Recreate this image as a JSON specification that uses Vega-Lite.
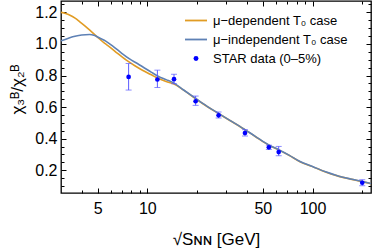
{
 "$schema": "https://vega.github.io/schema/vega-lite/v6.json",
 "width": 310, "height": 192,
 "autosize": {"type": "none"},
 "padding": {"left": 61, "top": 1, "right": 3, "bottom": 59},
 "background": "white",
 "config": {
   "view": {"stroke": "#000", "strokeWidth": 1.3},
   "axis": {"grid": false, "domain": false, "tickColor": "#000", "tickWidth": 1, "labelFont": "Liberation Sans", "labelFontSize": 16, "labelColor": "#000", "titleFont": "Liberation Sans", "titleFontSize": 17, "titleFontWeight": "normal", "titleColor": "#000"},
   "legend": {"labelFont": "Liberation Sans", "labelFontSize": 13, "labelColor": "#000", "symbolSize": 100, "rowPadding": 5, "labelOffset": 15}
 },
 "datasets": {
   "curves": [
     {"E": 3.0, "v": 1.200, "series": "μ−dependent T₀ case"},
     {"E": 3.2, "v": 1.193, "series": "μ−dependent T₀ case"},
     {"E": 3.4, "v": 1.182, "series": "μ−dependent T₀ case"},
     {"E": 3.65, "v": 1.163, "series": "μ−dependent T₀ case"},
     {"E": 3.9, "v": 1.140, "series": "μ−dependent T₀ case"},
     {"E": 4.2, "v": 1.113, "series": "μ−dependent T₀ case"},
     {"E": 4.5, "v": 1.086, "series": "μ−dependent T₀ case"},
     {"E": 5.0, "v": 1.042, "series": "μ−dependent T₀ case"},
     {"E": 5.5, "v": 1.005, "series": "μ−dependent T₀ case"},
     {"E": 5.9, "v": 0.982, "series": "μ−dependent T₀ case"},
     {"E": 6.6, "v": 0.940, "series": "μ−dependent T₀ case"},
     {"E": 7.46, "v": 0.897, "series": "μ−dependent T₀ case"},
     {"E": 8.4, "v": 0.862, "series": "μ−dependent T₀ case"},
     {"E": 9.4, "v": 0.832, "series": "μ−dependent T₀ case"},
     {"E": 10.5, "v": 0.806, "series": "μ−dependent T₀ case"},
     {"E": 11.5, "v": 0.784, "series": "μ−dependent T₀ case"},
     {"E": 13, "v": 0.762, "series": "μ−dependent T₀ case"},
     {"E": 14.5, "v": 0.746, "series": "μ−dependent T₀ case"},
     {"E": 16.5, "v": 0.709, "series": "μ−dependent T₀ case"},
     {"E": 19.6, "v": 0.653, "series": "μ−dependent T₀ case"},
     {"E": 23, "v": 0.604, "series": "μ−dependent T₀ case"},
     {"E": 27, "v": 0.559, "series": "μ−dependent T₀ case"},
     {"E": 31.6, "v": 0.515, "series": "μ−dependent T₀ case"},
     {"E": 36.3, "v": 0.477, "series": "μ−dependent T₀ case"},
     {"E": 45, "v": 0.414, "series": "μ−dependent T₀ case"},
     {"E": 54.4, "v": 0.359, "series": "μ−dependent T₀ case"},
     {"E": 62.4, "v": 0.329, "series": "μ−dependent T₀ case"},
     {"E": 72, "v": 0.295, "series": "μ−dependent T₀ case"},
     {"E": 84, "v": 0.254, "series": "μ−dependent T₀ case"},
     {"E": 100, "v": 0.223, "series": "μ−dependent T₀ case"},
     {"E": 120, "v": 0.189, "series": "μ−dependent T₀ case"},
     {"E": 140, "v": 0.166, "series": "μ−dependent T₀ case"},
     {"E": 170, "v": 0.144, "series": "μ−dependent T₀ case"},
     {"E": 200, "v": 0.128, "series": "μ−dependent T₀ case"},
     {"E": 226, "v": 0.115, "series": "μ−dependent T₀ case"},
     {"E": 3.0, "v": 1.020, "series": "μ−independent T₀ case"},
     {"E": 3.3, "v": 1.035, "series": "μ−independent T₀ case"},
     {"E": 3.53, "v": 1.045, "series": "μ−independent T₀ case"},
     {"E": 4.0, "v": 1.057, "series": "μ−independent T₀ case"},
     {"E": 4.47, "v": 1.060, "series": "μ−independent T₀ case"},
     {"E": 4.8, "v": 1.053, "series": "μ−independent T₀ case"},
     {"E": 5.2, "v": 1.035, "series": "μ−independent T₀ case"},
     {"E": 5.6, "v": 1.018, "series": "μ−independent T₀ case"},
     {"E": 6.2, "v": 0.985, "series": "μ−independent T₀ case"},
     {"E": 7.0, "v": 0.941, "series": "μ−independent T₀ case"},
     {"E": 7.8, "v": 0.905, "series": "μ−independent T₀ case"},
     {"E": 8.7, "v": 0.876, "series": "μ−independent T₀ case"},
     {"E": 9.6, "v": 0.848, "series": "μ−independent T₀ case"},
     {"E": 10.6, "v": 0.820, "series": "μ−independent T₀ case"},
     {"E": 11.7, "v": 0.794, "series": "μ−independent T₀ case"},
     {"E": 13, "v": 0.774, "series": "μ−independent T₀ case"},
     {"E": 14.5, "v": 0.752, "series": "μ−independent T₀ case"},
     {"E": 16.5, "v": 0.710, "series": "μ−independent T₀ case"},
     {"E": 19.6, "v": 0.655, "series": "μ−independent T₀ case"},
     {"E": 23, "v": 0.605, "series": "μ−independent T₀ case"},
     {"E": 27, "v": 0.560, "series": "μ−independent T₀ case"},
     {"E": 31.6, "v": 0.516, "series": "μ−independent T₀ case"},
     {"E": 36.3, "v": 0.478, "series": "μ−independent T₀ case"},
     {"E": 45, "v": 0.415, "series": "μ−independent T₀ case"},
     {"E": 54.4, "v": 0.360, "series": "μ−independent T₀ case"},
     {"E": 62.4, "v": 0.330, "series": "μ−independent T₀ case"},
     {"E": 72, "v": 0.296, "series": "μ−independent T₀ case"},
     {"E": 84, "v": 0.255, "series": "μ−independent T₀ case"},
     {"E": 100, "v": 0.224, "series": "μ−independent T₀ case"},
     {"E": 120, "v": 0.190, "series": "μ−independent T₀ case"},
     {"E": 140, "v": 0.167, "series": "μ−independent T₀ case"},
     {"E": 170, "v": 0.145, "series": "μ−independent T₀ case"},
     {"E": 200, "v": 0.129, "series": "μ−independent T₀ case"},
     {"E": 226, "v": 0.116, "series": "μ−independent T₀ case"}
   ],
   "star": [
     {"E": 7.7, "chi": 0.791, "lo": 0.708, "hi": 0.876, "series": "STAR data (0–5%)"},
     {"E": 11.5, "chi": 0.775, "lo": 0.724, "hi": 0.834, "series": "STAR data (0–5%)"},
     {"E": 14.5, "chi": 0.777, "lo": 0.748, "hi": 0.808, "series": "STAR data (0–5%)"},
     {"E": 19.6, "chi": 0.637, "lo": 0.611, "hi": 0.670, "series": "STAR data (0–5%)"},
     {"E": 27, "chi": 0.548, "lo": 0.531, "hi": 0.569, "series": "STAR data (0–5%)"},
     {"E": 39, "chi": 0.436, "lo": 0.417, "hi": 0.457, "series": "STAR data (0–5%)"},
     {"E": 54.4, "chi": 0.345, "lo": 0.332, "hi": 0.359, "series": "STAR data (0–5%)"},
     {"E": 62.4, "chi": 0.315, "lo": 0.292, "hi": 0.351, "series": "STAR data (0–5%)"},
     {"E": 200, "chi": 0.121, "lo": 0.102, "hi": 0.140, "series": "STAR data (0–5%)"}
   ]
 },
 "layer": [
   {
     "data": {"name": "curves"},
     "mark": {"type": "line", "strokeWidth": 1.6, "interpolate": "monotone", "clip": true},
     "encoding": {
       "x": {"field": "E", "type": "quantitative", "scale": {"type": "log", "domain": [3, 226], "nice": false},
             "axis": {"orient": "bottom", "values": [5, 10, 50, 100], "format": "d", "tickSize": -5, "labelPadding": 12, "title": "√Sɴɴ [GeV]", "titlePadding": 15}},
       "y": {"field": "v", "type": "quantitative", "scale": {"domain": [0.056, 1.272], "nice": false, "zero": false},
             "axis": {"orient": "left", "values": [0.2, 0.4, 0.6, 0.8, 1.0, 1.2], "format": ".1f", "tickSize": -5, "labelPadding": 9, "title": "χ₃ᴮ/χ₂ᴮ", "titlePadding": 8, "titleY": 88}},
       "color": {"field": "series", "type": "nominal",
                 "scale": {"domain": ["μ−dependent T₀ case", "μ−independent T₀ case", "STAR data (0–5%)"], "range": ["#E19C24", "#5E81B5", "#0000FF"]},
                 "legend": {"title": null, "orient": "none", "legendX": 124, "legendY": 13,
                   "encode": {"symbols": {"update": {
                     "shape": {"signal": "datum.value === 'STAR data (0–5%)' ? 'circle' : 'stroke'"},
                     "size": {"signal": "datum.value === 'STAR data (0–5%)' ? 24 : 484"},
                     "x": {"value": 11},
                     "fill": {"signal": "datum.value === 'STAR data (0–5%)' ? '#0000FF' : 'transparent'"},
                     "stroke": {"scale": "color", "field": "value"},
                     "strokeWidth": {"signal": "datum.value === 'STAR data (0–5%)' ? 0 : 1.8"}
                   }}}}}
     }
   },
   {
     "data": {"name": "star"},
     "mark": {"type": "rule", "color": "#5B5BFF", "strokeWidth": 1},
     "encoding": {
       "x": {"field": "E", "type": "quantitative", "scale": {"type": "log", "domain": [3, 226], "nice": false},
             "axis": {"orient": "bottom", "values": [4, 6, 7, 8, 9, 20, 30, 40, 60, 70, 80, 90, 200], "tickSize": -3, "labels": false, "title": null}},
       "y": {"field": "lo", "type": "quantitative", "scale": {"domain": [0.056, 1.272], "nice": false, "zero": false},
             "axis": {"orient": "left", "values": [0.1, 0.15, 0.25, 0.3, 0.35, 0.45, 0.5, 0.55, 0.65, 0.7, 0.75, 0.85, 0.9, 0.95, 1.05, 1.1, 1.15, 1.25], "tickSize": -3, "labels": false, "title": null}},
       "y2": {"field": "hi"}
     }
   },
   {
     "data": {"name": "star"},
     "mark": {"type": "tick", "orient": "horizontal", "size": 6, "thickness": 1, "color": "#5B5BFF"},
     "encoding": {
       "x": {"field": "E", "type": "quantitative", "scale": {"type": "log", "domain": [3, 226], "nice": false},
             "axis": {"orient": "top", "values": [5, 10, 50, 100], "tickSize": -5, "labels": false, "title": null}},
       "y": {"field": "lo", "type": "quantitative", "scale": {"domain": [0.056, 1.272], "nice": false, "zero": false},
             "axis": {"orient": "right", "values": [0.2, 0.4, 0.6, 0.8, 1.0, 1.2], "tickSize": -5, "labels": false, "title": null}}
     }
   },
   {
     "data": {"name": "star"},
     "mark": {"type": "tick", "orient": "horizontal", "size": 6, "thickness": 1, "color": "#5B5BFF"},
     "encoding": {
       "x": {"field": "E", "type": "quantitative", "scale": {"type": "log", "domain": [3, 226], "nice": false},
             "axis": {"orient": "top", "values": [4, 6, 7, 8, 9, 20, 30, 40, 60, 70, 80, 90, 200], "tickSize": -3, "labels": false, "title": null}},
       "y": {"field": "hi", "type": "quantitative", "scale": {"domain": [0.056, 1.272], "nice": false, "zero": false},
             "axis": {"orient": "right", "values": [0.1, 0.15, 0.25, 0.3, 0.35, 0.45, 0.5, 0.55, 0.65, 0.7, 0.75, 0.85, 0.9, 0.95, 1.05, 1.1, 1.15, 1.25], "tickSize": -3, "labels": false, "title": null}}
     }
   },
   {
     "data": {"name": "star"},
     "mark": {"type": "point", "filled": true, "size": 22, "opacity": 1},
     "encoding": {
       "x": {"field": "E", "type": "quantitative", "scale": {"type": "log", "domain": [3, 226], "nice": false}, "axis": null},
       "y": {"field": "chi", "type": "quantitative", "scale": {"domain": [0.056, 1.272], "nice": false, "zero": false}, "axis": null},
       "color": {"field": "series", "type": "nominal", "legend": null}
     }
   }
 ],
 "resolve": {"axis": {"x": "independent", "y": "independent"}}
}
